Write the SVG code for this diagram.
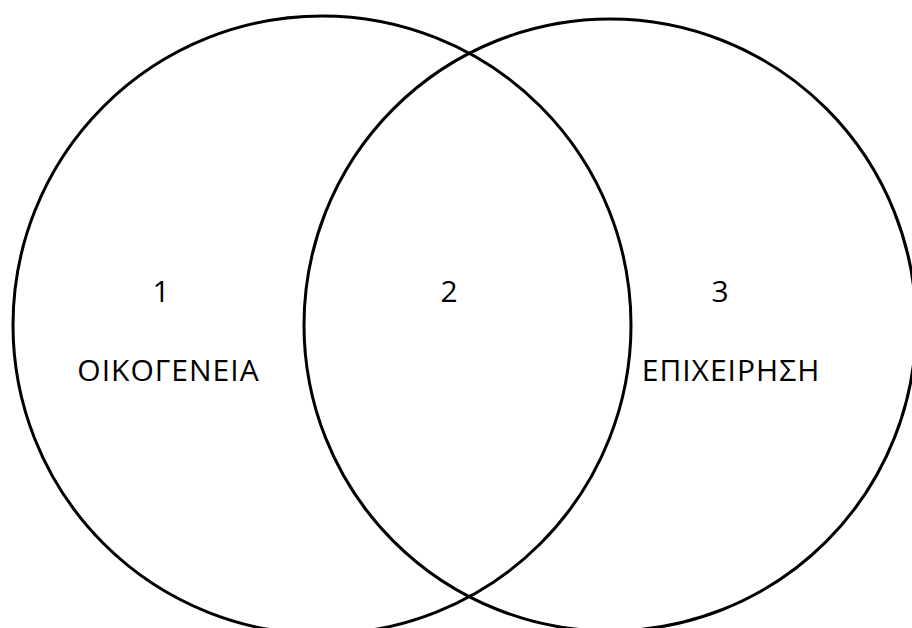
<svg xmlns="http://www.w3.org/2000/svg" width="912" height="628" viewBox="0 0 912 628">
<style>
.c{fill:none;stroke:#000;stroke-width:3}
.t{font-family:"Open Sans","Liberation Sans",sans-serif;font-size:30px;fill:#000;text-anchor:middle}
.w{letter-spacing:1px}
</style>
<rect width="912" height="628" fill="#fff"/>
<g id="circle-family"><circle class="c" cx="322" cy="325" r="309"/></g>
<g id="circle-business"><circle class="c" cx="610" cy="325" r="306"/></g>
<g id="labels">
<text class="t" x="161" y="302">1</text>
<text class="t w" x="168.5" y="381">ΟΙΚΟΓΕΝΕΙΑ</text>
<text class="t" x="449" y="302">2</text>
<text class="t" x="720" y="302">3</text>
<text class="t w" x="731" y="381">ΕΠΙΧΕΙΡΗΣΗ</text>
</g>
</svg>
